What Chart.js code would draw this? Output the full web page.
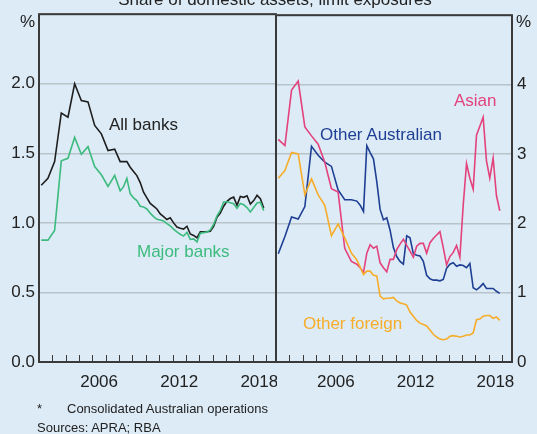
<!DOCTYPE html>
<html>
<head>
<meta charset="utf-8">
<script src="https://cdn.jsdelivr.net/npm/chart.js@4.4.0/dist/chart.umd.min.js"></script>
<style>
  body { margin: 0; background: #dcebf6; }
  #wrap { position: relative; width: 537px; height: 434px; overflow: hidden; background: #dcebf6;
          font-family: "Liberation Sans", Arial, sans-serif; color: #222; }
  canvas { position: absolute; top: 0; }
  #leftCanvas { left: 0; }
  #rightCanvas { left: 270px; }
  .txt { position: absolute; white-space: nowrap; font-size: 17px; line-height: 1; }
  .note { position: absolute; white-space: nowrap; font-size: 13px; line-height: 1; color: #222; }
</style>
</head>
<body>
<div id="wrap">
  <canvas id="leftCanvas" width="277" height="434"></canvas>
  <canvas id="rightCanvas" width="267" height="434"></canvas>
  <div class="txt" style="left:0; width:550px; text-align:center; top:-9px;">Share of domestic assets, limit exposures</div>
  <div class="txt" style="left:20px; top:13px;">%</div>
  <div class="txt" style="left:516px; top:13px;">%</div>
  <div class="txt" style="left:109px; top:116px;">All banks</div>
  <div class="txt" style="left:137px; top:243px; color:#3dbb7e;">Major banks</div>
  <div class="txt" style="left:320px; top:126px; color:#1f3f94;">Other Australian</div>
  <div class="txt" style="left:454px; top:92px; color:#e4427c;">Asian</div>
  <div class="txt" style="left:303px; top:315px; color:#f7ad2a;">Other foreign</div>
  <div class="note" style="left:37px; top:402px;">*</div>
  <div class="note" style="left:67px; top:402px;">Consolidated Australian operations</div>
  <div class="note" style="left:37px; top:421px;">Sources: APRA; RBA</div>
</div>
<script>
// dates: semiannual to 2007, quarterly from 2008
const dates = [
  2002.17, 2002.67, 2003.17, 2003.67, 2004.17, 2004.67, 2005.17, 2005.67,
  2006.17, 2006.67, 2007.17, 2007.67,
  2008.08, 2008.33, 2008.58, 2008.83, 2009.08, 2009.33, 2009.58, 2009.83,
  2010.08, 2010.33, 2010.58, 2010.83, 2011.08, 2011.33, 2011.58, 2011.83,
  2012.08, 2012.33, 2012.58, 2012.83, 2013.08, 2013.33, 2013.58, 2013.83,
  2014.08, 2014.33, 2014.58, 2014.83, 2015.08, 2015.33, 2015.58, 2015.83,
  2016.08, 2016.33, 2016.58, 2016.83, 2017.08, 2017.33, 2017.58, 2017.83,
  2018.08, 2018.33, 2018.58, 2018.83
];

const allBanks = [
  1.27, 1.32, 1.44, 1.79, 1.76, 2.0, 1.88, 1.87, 1.70, 1.64, 1.52, 1.53,
  1.44, 1.44, 1.44, 1.40, 1.37, 1.34, 1.29, 1.22, 1.18, 1.14, 1.12, 1.10,
  1.065, 1.045, 1.024, 1.036, 1.0, 0.97, 0.962, 0.955, 0.976, 0.92, 0.91, 0.893,
  0.936, 0.935, 0.936, 0.94, 0.975, 1.04, 1.07, 1.12, 1.155, 1.175, 1.185, 1.126,
  1.19, 1.184, 1.195, 1.136, 1.16, 1.198, 1.174, 1.107
];
const majorBanks = [
  0.876, 0.876, 0.946, 1.446, 1.464, 1.614, 1.493, 1.548, 1.405, 1.346, 1.262, 1.341,
  1.23, 1.26, 1.32, 1.21, 1.18, 1.16, 1.12, 1.115, 1.10, 1.07, 1.045, 1.026,
  1.02, 1.014, 0.995, 0.978, 0.955, 0.935, 0.918, 0.905, 0.932, 0.881, 0.885, 0.864,
  0.925, 0.93, 0.935, 0.95, 0.99, 1.05, 1.09, 1.15, 1.152, 1.145, 1.138, 1.105,
  1.14, 1.13, 1.11, 1.079, 1.11, 1.143, 1.148, 1.088
];
const asian = [
  3.21, 3.12, 3.92, 4.05, 3.39, 3.26, 3.14, 2.88, 2.50, 2.45, 1.64, 1.45,
  1.41, 1.36, 1.29, 1.57, 1.69, 1.64, 1.67, 1.43, 1.36, 1.30, 1.48, 1.48,
  1.62, 1.70, 1.77, 1.68, 1.60, 1.51, 1.67, 1.71, 1.71, 1.57, 1.72, 1.78,
  1.83, 1.88, 1.65, 1.40, 1.52, 1.58, 1.68, 1.51, 2.26, 2.86, 2.65, 2.49,
  3.27, 3.40, 3.53, 2.90, 2.65, 2.94, 2.40, 2.18
];
const otherAustralian = [
  1.56, 1.81, 2.09, 2.06, 2.24, 3.11, 2.98, 2.88, 2.82, 2.48, 2.34, 2.34,
  2.32, 2.26, 2.17, 3.12, 3.02, 2.93, 2.60, 2.20, 2.05, 2.08, 1.90, 1.65,
  1.52, 1.45, 1.41, 1.82, 1.79, 1.56, 1.54, 1.53, 1.45, 1.25, 1.20, 1.18,
  1.18, 1.17, 1.19, 1.35, 1.41, 1.43, 1.38, 1.40, 1.39, 1.36, 1.42, 1.07,
  1.04, 1.08, 1.13, 1.06, 1.06, 1.06, 1.02, 0.99
];
const otherForeign = [
  2.65, 2.76, 3.02, 3.0, 2.41, 2.64, 2.41, 2.26, 1.82, 1.99, 1.79, 1.57,
  1.47, 1.37, 1.26, 1.31, 1.31, 1.25, 1.24, 0.95, 0.91, 0.92, 0.92, 0.93,
  0.88, 0.85, 0.84, 0.82, 0.72, 0.66, 0.60, 0.56, 0.54, 0.52, 0.46, 0.40,
  0.36, 0.33, 0.32, 0.33, 0.37, 0.38, 0.37, 0.36, 0.37, 0.39, 0.39, 0.42,
  0.61, 0.62, 0.66, 0.67, 0.67, 0.63, 0.65, 0.60
];

const yearTicks = [2003, 2004, 2005, 2006, 2007, 2008, 2009, 2010, 2011, 2012,
                   2013, 2014, 2015, 2016, 2017, 2018, 2019];
const yearLabels = [2006, 2012, 2018];

const pts = (vals) => vals.map((v, i) => ({ x: dates[i], y: v }));

const frameAndTicks = {
  id: 'frameAndTicks',
  afterDraw(chart) {
    const { ctx, chartArea: a, scales } = chart;
    ctx.save();
    ctx.strokeStyle = '#3a3a3a';
    ctx.lineWidth = 1;
    yearTicks.forEach(yr => {
      const px = Math.round(scales.x.getPixelForValue(yr)) + 0.5;
      ctx.beginPath();
      ctx.moveTo(px, a.bottom);
      ctx.lineTo(px, a.bottom - 7);
      ctx.stroke();
    });
    ctx.lineWidth = 2;
    ctx.strokeRect(a.left, a.top, a.right - a.left, a.bottom - a.top);
    ctx.restore();
  }
};

function xAxis() {
  return {
    type: 'linear',
    min: 2002,
    max: 2019.75,
    grid: { display: false, drawTicks: false },
    border: { display: false },
    afterBuildTicks: (s) => { s.ticks = yearLabels.map(y => ({ value: y + 0.5 })); },
    afterFit: (s) => { s.height = 72; s.paddingLeft = 0; s.paddingRight = 0; },
    ticks: {
      autoSkip: false,
      maxRotation: 0,
      padding: 10,
      color: '#222',
      font: { size: 17, family: 'Liberation Sans' },
      callback: (v) => String(Math.floor(v))
    }
  };
}

function line(data, color) {
  return {
    data: data,
    borderColor: color,
    borderWidth: 1.6,
    pointRadius: 0,
    tension: 0,
    fill: false
  };
}

new Chart(document.getElementById('leftCanvas'), {
  type: 'line',
  data: {
    datasets: [
      line(pts(majorBanks), '#3dbb7e'),
      line(pts(allBanks), '#1e1e1e')
    ]
  },
  options: {
    responsive: false,
    animation: false,
    layout: { padding: { top: 12, right: 1, left: 0, bottom: 0 } },
    plugins: { legend: { display: false }, tooltip: { enabled: false } },
    scales: {
      x: xAxis(),
      y: {
        min: 0,
        max: 2.5,
        afterFit: (s) => { s.width = 39; },
        border: { display: false },
        grid: { color: '#b9c3ca', lineWidth: 1.5, drawTicks: false },
        ticks: {
          stepSize: 0.5,
          padding: 4,
          color: '#222',
          font: { size: 17, family: 'Liberation Sans' },
          callback: (v) => v >= 2.5 ? '' : v.toFixed(1)
        }
      }
    }
  },
  plugins: [frameAndTicks]
});

new Chart(document.getElementById('rightCanvas'), {
  type: 'line',
  data: {
    datasets: [
      line(pts(otherForeign), '#f7ad2a'),
      line(pts(asian), '#e4427c'),
      line(pts(otherAustralian), '#1f3f94')
    ]
  },
  options: {
    responsive: false,
    animation: false,
    layout: { padding: { top: 12, right: 0, left: 6, bottom: 0 } },
    plugins: { legend: { display: false }, tooltip: { enabled: false } },
    scales: {
      x: xAxis(),
      y: {
        position: 'right',
        min: 0,
        max: 5,
        afterFit: (s) => { s.width = 25; },
        border: { display: false },
        grid: { color: '#b9c3ca', lineWidth: 1.5, drawTicks: false },
        ticks: {
          stepSize: 1,
          padding: 5,
          color: '#222',
          font: { size: 17, family: 'Liberation Sans' },
          callback: (v) => v >= 5 ? '' : String(v)
        }
      }
    }
  },
  plugins: [frameAndTicks]
});
</script>
</body>
</html>
